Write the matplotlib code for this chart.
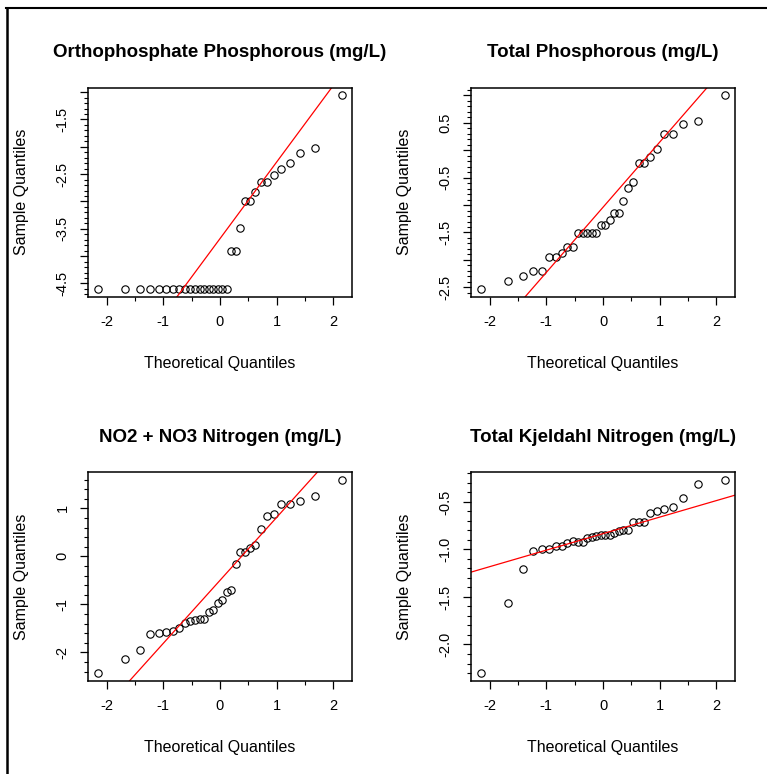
import numpy as np
import matplotlib
matplotlib.use('Agg')
import matplotlib.pyplot as plt
from matplotlib.lines import Line2D
from matplotlib.ticker import FixedLocator, FixedFormatter, MultipleLocator

plt.rcParams['font.family'] = ['Liberation Sans', 'DejaVu Sans']

# theoretical normal quantiles (n = 32)
theoretical = [-2.154, -1.676, -1.418, -1.230, -1.078, -0.947, -0.831, -0.725,
               -0.626, -0.533, -0.445, -0.360, -0.278, -0.197, -0.118, -0.039,
               0.039, 0.118, 0.197, 0.278, 0.360, 0.445, 0.533, 0.626,
               0.725, 0.831, 0.947, 1.078, 1.230, 1.418, 1.676, 2.154]

# sample quantiles (log mg/L), sorted
ortho_p = [-4.60] * 18 + [-3.90, -3.90, -3.49, -2.99, -2.99, -2.82, -2.64, -2.64,
                          -2.52, -2.40, -2.29, -2.12, -2.03, -1.06]
total_p = [-2.53, -2.38, -2.30, -2.21, -2.21, -1.94, -1.94, -1.88,
           -1.77, -1.77, -1.51, -1.51, -1.51, -1.51, -1.51, -1.36,
           -1.36, -1.28, -1.15, -1.15, -0.92, -0.69, -0.58, -0.23,
           -0.23, -0.12, 0.03, 0.30, 0.30, 0.47, 0.53, 1.00]
no2_no3 = [-2.43, -2.13, -1.96, -1.62, -1.60, -1.57, -1.55, -1.50,
           -1.39, -1.35, -1.32, -1.30, -1.30, -1.16, -1.11, -0.97,
           -0.90, -0.75, -0.71, -0.15, 0.10, 0.10, 0.17, 0.23,
           0.57, 0.84, 0.89, 1.08, 1.08, 1.15, 1.26, 1.59]
tkn = [-2.30, -1.56, -1.21, -1.02, -1.00, -1.00, -0.96, -0.96,
       -0.93, -0.91, -0.92, -0.92, -0.88, -0.87, -0.86, -0.85,
       -0.85, -0.85, -0.83, -0.81, -0.80, -0.80, -0.71, -0.71,
       -0.71, -0.62, -0.60, -0.58, -0.55, -0.46, -0.31, -0.27]

titles = ['Orthophosphate Phosphorous (mg/L)', 'Total Phosphorous (mg/L)',
          'NO2 + NO3 Nitrogen (mg/L)', 'Total Kjeldahl Nitrogen (mg/L)']

# reference lines (qqline)
line_intercepts = [-3.68, -1.04, -0.50, -0.834]
line_slopes = [1.40, 1.19, 1.31, 0.174]

xticks = [-2, -1, 0, 1, 2]
xtick_labels = ['-2', '-1', '0', '1', '2']

ortho_yticks = [-4.5, -4.0, -3.5, -3.0, -2.5, -2.0, -1.5, -1.0]
ortho_ylabels = ['-4.5', '', '-3.5', '', '-2.5', '', '-1.5', '']
total_yticks = [-2.5, -2.0, -1.5, -1.0, -0.5, 0.0, 0.5, 1.0]
total_ylabels = ['-2.5', '', '-1.5', '', '-0.5', '', '0.5', '']
no2_yticks = [-2, -1, 0, 1]
no2_ylabels = ['-2', '-1', '0', '1']
tkn_yticks = [-2.0, -1.5, -1.0, -0.5]
tkn_ylabels = ['-2.0', '-1.5', '-1.0', '-0.5']

samples = [ortho_p, total_p, no2_no3, tkn]
yticks = [ortho_yticks, total_yticks, no2_yticks, tkn_yticks]
ylabels = [ortho_ylabels, total_ylabels, no2_ylabels, tkn_ylabels]
yminor = [0.1, 0.1, 0.2, 0.1]

# axes rectangles in figure fractions
rects = [[0.1151, 0.6167, 0.3434, 0.2700],
         [0.6141, 0.6167, 0.3442, 0.2700],
         [0.1151, 0.1205, 0.3434, 0.2693],
         [0.6141, 0.1205, 0.3442, 0.2693]]

fig = plt.figure(figsize=(7.67, 7.74), dpi=100)


def qq_panel(ax, y, title, a, b, yt, yl, ystep):
    ax.plot(theoretical, y, linestyle='none', marker='o', ms=5.3,
            mfc='none', mec='black', mew=0.8)
    ax.axline((0, a), slope=b, color='red', lw=0.9)
    ax.margins(0.04)

    ax.xaxis.set_major_locator(FixedLocator(xticks))
    ax.xaxis.set_major_formatter(FixedFormatter(xtick_labels))
    ax.xaxis.set_minor_locator(MultipleLocator(0.5))
    ax.yaxis.set_major_locator(FixedLocator(yt))
    ax.yaxis.set_major_formatter(FixedFormatter(yl))
    ax.yaxis.set_minor_locator(MultipleLocator(ystep))

    ax.tick_params(which='major', direction='out', length=5.5, width=0.9,
                   labelsize=10.5, pad=8)
    ax.tick_params(which='minor', direction='out', length=2.6, width=0.8)
    ax.tick_params(axis='y', which='major', labelrotation=90, pad=8)
    for lab in ax.get_yticklabels():
        lab.set_va('center')

    for sp in ax.spines.values():
        sp.set_linewidth(1.1)

    ax.set_title(title, fontsize=13.5, fontweight='bold', pad=22)
    ax.set_xlabel('Theoretical Quantiles', fontsize=11.5, va='center')
    ax.xaxis.set_label_coords(0.5, -0.319)
    ax.set_ylabel('Sample Quantiles', fontsize=11.5, va='center')
    ax.yaxis.set_label_coords(-0.253, 0.5)


for i in range(4):
    ax = fig.add_axes(rects[i])
    qq_panel(ax, samples[i], titles[i], line_intercepts[i], line_slopes[i],
             yticks[i], ylabels[i], yminor[i])

# frame lines along the top and left of the image
fig.add_artist(Line2D([6 / 767, 1], [1 - 8 / 774, 1 - 8 / 774],
                      color='black', lw=1.5))
fig.add_artist(Line2D([7 / 767, 7 / 767], [0, 1 - 8 / 774],
                      color='black', lw=1.8))

fig.savefig('out.png', dpi=100)
